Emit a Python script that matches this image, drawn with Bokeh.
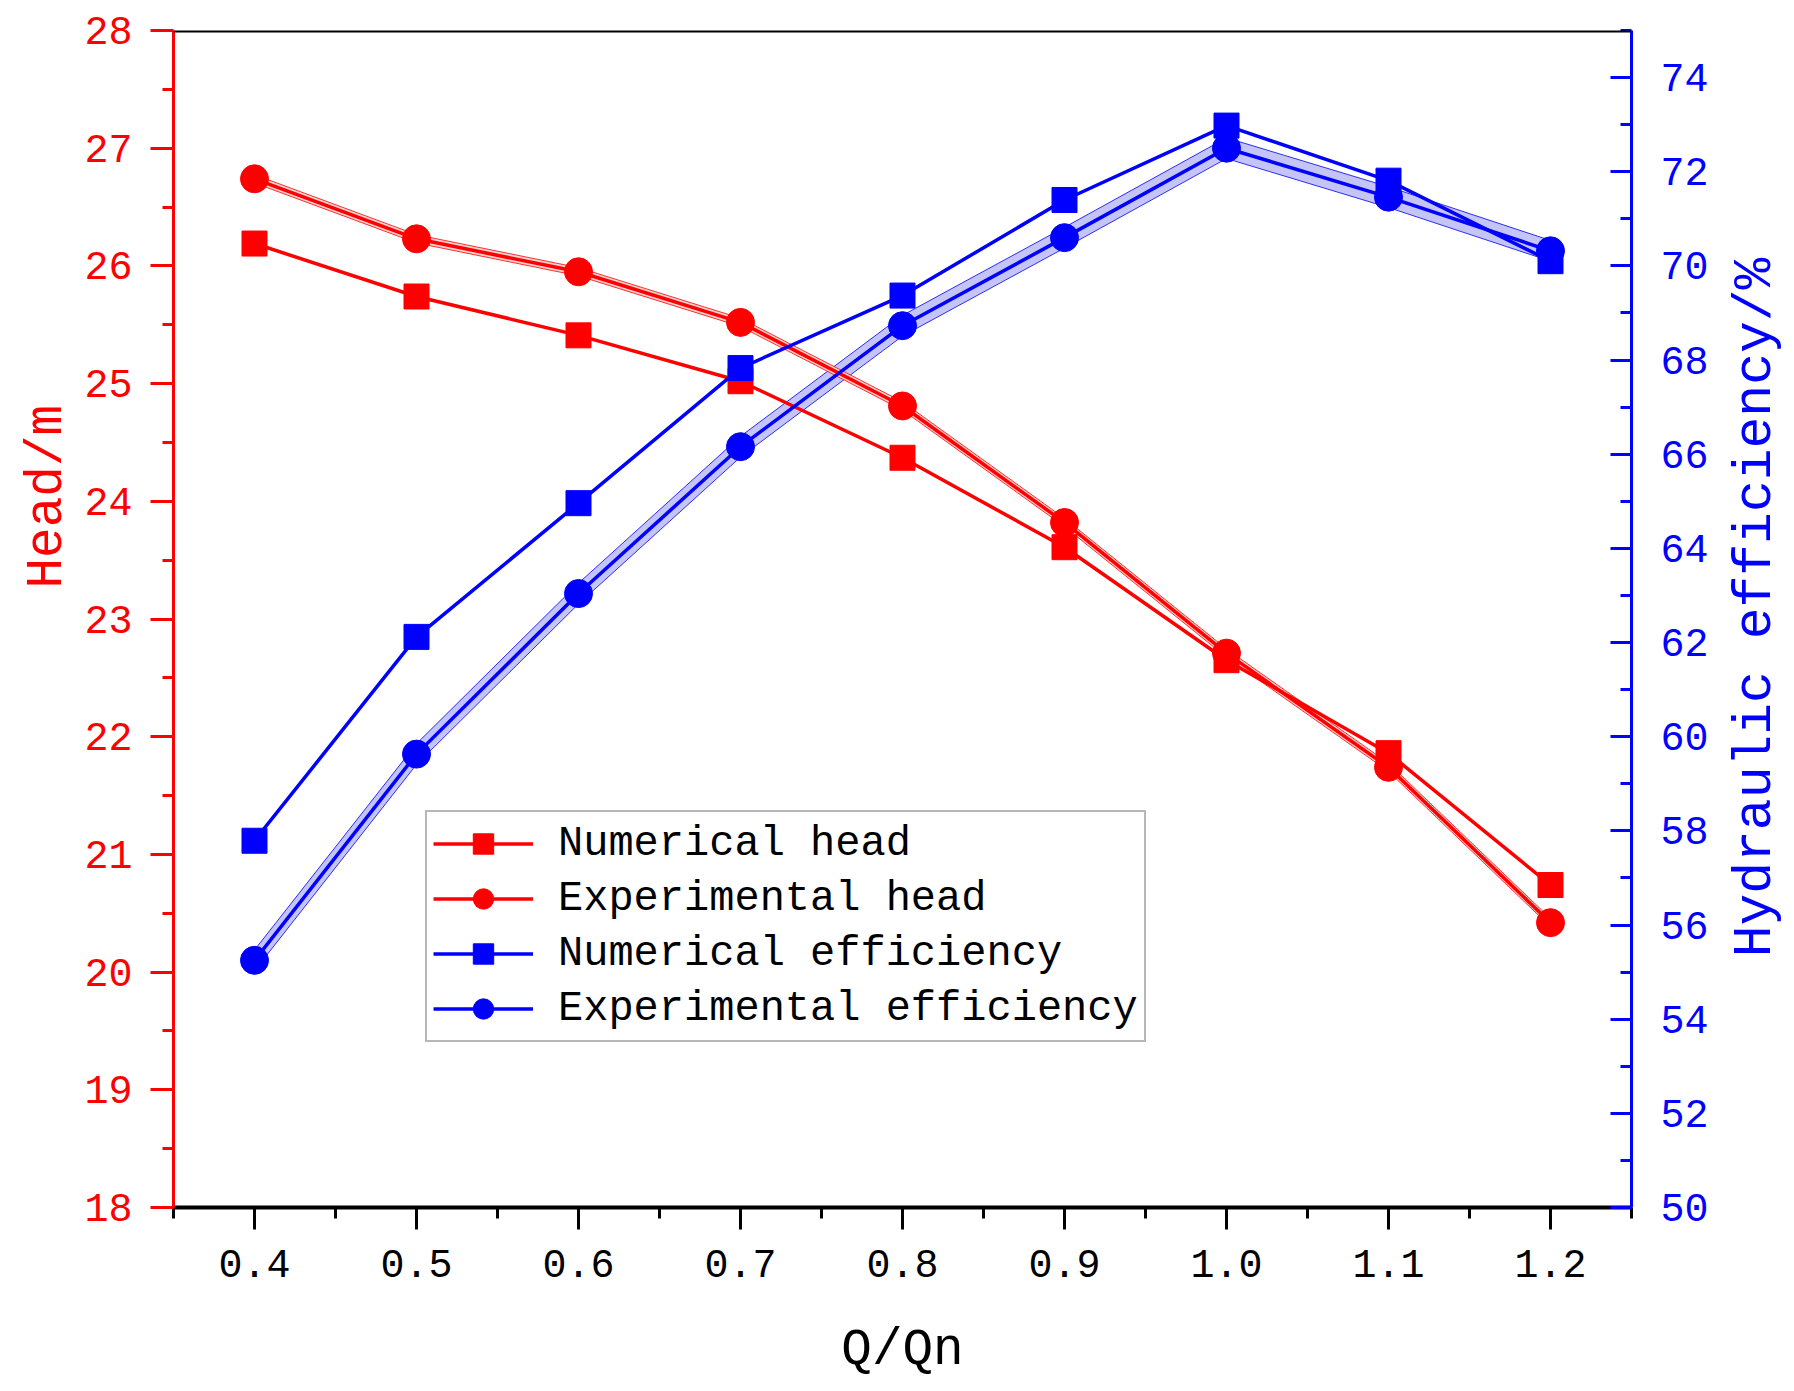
import math
from bokeh.plotting import figure
from bokeh.layouts import row
from bokeh.models import (LinearAxis, Range1d, FixedTicker, PrintfTickFormatter,
                          Legend, LegendItem, Span, Title)
from bokeh.core.properties import value
from bokeh.embed import file_html
from bokeh.resources import INLINE

# ---- data ----
flow_ratio = [0.4, 0.5, 0.6, 0.7, 0.8, 0.9, 1.0, 1.1, 1.2]
numerical_head = [26.19, 25.74, 25.41, 25.02, 24.37, 23.61, 22.65, 21.86, 20.74]
experimental_head = [26.74, 26.23, 25.95, 25.52, 24.81, 23.82, 22.71, 21.74, 20.42]
numerical_eff = [57.79, 62.12, 64.96, 67.83, 69.37, 71.40, 72.98, 71.81, 70.10]
experimental_eff = [55.25, 59.63, 63.04, 66.16, 68.73, 70.60, 72.50, 71.46, 70.32]
head_uncertainty = [0.035, 0.035, 0.035, 0.035, 0.035, 0.035, 0.035, 0.035, 0.035]
eff_uncertainty = [0.22, 0.22, 0.22, 0.22, 0.22, 0.22, 0.22, 0.22, 0.22]

x_ticks = [0.4, 0.5, 0.6, 0.7, 0.8, 0.9, 1.0, 1.1, 1.2]
x_minor = [0.35, 0.45, 0.55, 0.65, 0.75, 0.85, 0.95, 1.05, 1.15, 1.25]
head_ticks = [18, 19, 20, 21, 22, 23, 24, 25, 26, 27, 28]
head_minor = [18.5, 19.5, 20.5, 21.5, 22.5, 23.5, 24.5, 25.5, 26.5, 27.5]
eff_ticks = [50, 52, 54, 56, 58, 60, 62, 64, 66, 68, 70, 72, 74]
eff_minor = [51, 53, 55, 57, 59, 61, 63, 65, 67, 69, 71, 73, 75]

x_title = "Q/Qn"
head_title = "Head/m"
eff_title = "Hydraulic efficiency/%"

FONT = "Liberation Mono"
RED = "#ff0000"
BLUE = "#0000ff"
H = 1383

p = figure(width=1711, height=H, x_range=Range1d(0.35, 1.25), y_range=Range1d(18, 28),
           output_backend="svg", toolbar_location=None,
           min_border_left=173, min_border_right=80, min_border_top=30, min_border_bottom=176)
p.xgrid.visible = False
p.ygrid.visible = False
p.outline_line_color = None
p.background_fill_color = "white"
p.extra_y_ranges = {"eff": Range1d(50, 75)}

# x axis
xa = p.xaxis[0]
xa.ticker = FixedTicker(ticks=x_ticks, minor_ticks=x_minor)
xa.formatter = PrintfTickFormatter(format="%.1f")
xa.axis_label = x_title
xa.axis_line_color = "black"
xa.axis_line_width = 4
xa.major_tick_line_color = "black"
xa.minor_tick_line_color = "black"
xa.major_tick_line_width = 3
xa.minor_tick_line_width = 3
xa.major_tick_in = 0
xa.major_tick_out = 22
xa.minor_tick_in = 0
xa.minor_tick_out = 11
xa.major_label_standoff = 20
xa.major_label_text_font = FONT
xa.major_label_text_font_size = "40px"
xa.major_label_text_color = "black"
xa.axis_label_text_font = FONT
xa.axis_label_text_font_size = "51px"
xa.axis_label_text_font_style = "normal"
xa.axis_label_text_color = "black"
xa.axis_label_standoff = 42

# left axis
ya = p.yaxis[0]
ya.ticker = FixedTicker(ticks=head_ticks, minor_ticks=head_minor)
ya.axis_line_color = RED
ya.axis_line_width = 3
ya.major_tick_line_color = RED
ya.minor_tick_line_color = RED
ya.major_tick_line_width = 3
ya.minor_tick_line_width = 3
ya.major_tick_in = 0
ya.major_tick_out = 23
ya.minor_tick_in = 0
ya.minor_tick_out = 11
ya.major_label_standoff = 18
ya.major_label_text_font = FONT
ya.major_label_text_font_size = "40px"
ya.major_label_text_color = RED

# left title, placed higher than centre as in the reference
head_t = Title(text=head_title, align="left", offset=619, text_font=FONT,
               text_font_size="51px", text_font_style="normal", text_color=RED, standoff=12)
p.add_layout(head_t, "left")

# right axis
ra = LinearAxis(y_range_name="eff")
ra.ticker = FixedTicker(ticks=eff_ticks, minor_ticks=eff_minor)
ra.axis_line_color = BLUE
ra.axis_line_width = 3
ra.major_tick_line_color = BLUE
ra.minor_tick_line_color = BLUE
ra.major_tick_line_width = 3
ra.minor_tick_line_width = 3
ra.major_tick_in = 21
ra.major_tick_out = 0
ra.minor_tick_in = 11
ra.minor_tick_out = 0
ra.major_label_standoff = 29
ra.major_label_text_font = FONT
ra.major_label_text_font_size = "40px"
ra.major_label_text_color = BLUE
p.add_layout(ra, "right")

# top frame line
p.add_layout(Span(location=28, dimension="width", line_color="black", line_width=4))

# bands
head_lo = [v - u for v, u in zip(experimental_head, head_uncertainty)]
head_hi = [v + u for v, u in zip(experimental_head, head_uncertainty)]
eff_lo = [v - u for v, u in zip(experimental_eff, eff_uncertainty)]
eff_hi = [v + u for v, u in zip(experimental_eff, eff_uncertainty)]

p.varea(x=flow_ratio, y1=eff_lo, y2=eff_hi, fill_color="#c4c4f6", fill_alpha=1.0, y_range_name="eff")
p.line(flow_ratio, eff_lo, line_color=BLUE, line_width=1, line_alpha=0.8, y_range_name="eff")
p.line(flow_ratio, eff_hi, line_color=BLUE, line_width=1, line_alpha=0.8, y_range_name="eff")
p.varea(x=flow_ratio, y1=head_lo, y2=head_hi, fill_color="#ffd0d0", fill_alpha=1.0)
p.line(flow_ratio, head_lo, line_color=RED, line_width=1, line_alpha=0.8)
p.line(flow_ratio, head_hi, line_color=RED, line_width=1, line_alpha=0.8)

# main series
l1 = p.line(flow_ratio, numerical_head, line_color=RED, line_width=3.5)
s1 = p.scatter(flow_ratio, numerical_head, marker="square", size=25, fill_color=RED, line_color=RED)
l2 = p.line(flow_ratio, experimental_head, line_color=RED, line_width=3.5)
s2 = p.scatter(flow_ratio, experimental_head, marker="circle", size=28, fill_color=RED, line_color=RED)
l3 = p.line(flow_ratio, numerical_eff, line_color=BLUE, line_width=3.5, y_range_name="eff")
s3 = p.scatter(flow_ratio, numerical_eff, marker="square", size=25, fill_color=BLUE, line_color=BLUE, y_range_name="eff")
l4 = p.line(flow_ratio, experimental_eff, line_color=BLUE, line_width=3.5, y_range_name="eff")
s4 = p.scatter(flow_ratio, experimental_eff, marker="circle", size=28, fill_color=BLUE, line_color=BLUE, y_range_name="eff")

legend = Legend(items=[
    LegendItem(label="Numerical head", renderers=[l1, s1]),
    LegendItem(label="Experimental head", renderers=[l2, s2]),
    LegendItem(label="Numerical efficiency", renderers=[l3, s3]),
    LegendItem(label="Experimental efficiency", renderers=[l4, s4]),
], location=(252, 165))
legend.label_text_font = FONT
legend.label_text_font_size = "42px"
legend.label_text_color = "black"
legend.glyph_width = 100
legend.glyph_height = 51
legend.label_height = 51
legend.spacing = 4
legend.padding = 6
legend.label_standoff = 25
legend.margin = 0
legend.border_line_color = "#707070"
legend.border_line_width = 2
legend.background_fill_color = "white"
legend.background_fill_alpha = 1.0
p.add_layout(legend)

# right-hand title panel (text reads bottom to top)
side = figure(width=75, height=H, x_range=Range1d(0, 75), y_range=Range1d(0, H),
              output_backend="svg", toolbar_location=None,
              min_border=0, min_border_left=0, min_border_right=0,
              min_border_top=0, min_border_bottom=0)
side.axis.visible = False
side.xgrid.visible = False
side.ygrid.visible = False
side.outline_line_color = None
side.text(x=[44], y=[H - 678], text=[eff_title], angle=math.pi / 2,
          text_align="center", text_baseline="middle",
          text_font=value(FONT), text_font_size="53px", text_color=BLUE)

layout = row(p, side, spacing=0)
open("out.html", "w").write(file_html(layout, INLINE))
